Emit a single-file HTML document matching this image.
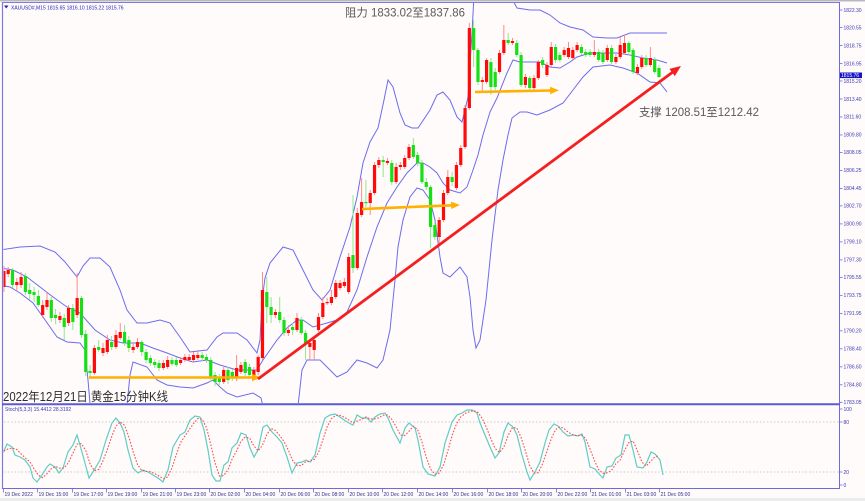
<!DOCTYPE html>
<html><head><meta charset="utf-8"><style>
html,body{margin:0;padding:0;background:#fffbfa;overflow:hidden}
svg{display:block}
</style></head><body>
<svg id="s" width="865" height="501" viewBox="0 0 865 501" xmlns="http://www.w3.org/2000/svg">
<defs>
<clipPath id="cm"><rect x="3.5" y="3" width="835.5" height="400"/></clipPath>
<clipPath id="cs"><rect x="3.5" y="406" width="835.5" height="82"/></clipPath>
</defs>
<rect width="865" height="501" fill="#fffbfa"/>
<rect x="0" y="0" width="865" height="1.5" fill="#b8b8c0"/>
<rect x="0" y="498" width="865" height="3" fill="#ececec"/>
<!-- frame -->
<line x1="3" y1="2.5" x2="839.5" y2="2.5" stroke="#7a7ae0" stroke-width="1"/>
<line x1="2.5" y1="2" x2="2.5" y2="489" stroke="#7a7ae0" stroke-width="1.2"/>
<line x1="839.5" y1="2" x2="839.5" y2="489" stroke="#6b6bdc" stroke-width="1"/>
<line x1="2" y1="404.2" x2="840" y2="404.2" stroke="#5a5ad6" stroke-width="2"/>
<line x1="2" y1="488.5" x2="840" y2="488.5" stroke="#6b6bdc" stroke-width="1"/>
<!-- stoch levels -->
<line x1="4" y1="422" x2="839" y2="422" stroke="#bdbdbd" stroke-width="0.8" stroke-dasharray="1.5,2"/>
<line x1="4" y1="472" x2="839" y2="472" stroke="#bdbdbd" stroke-width="0.8" stroke-dasharray="1.5,2"/>
<g id="main" clip-path="url(#cm)">
<g fill="none" stroke="#6c6cee" stroke-width="1">
<polyline points="0,250 20,247 40,246 55,252 65,262 77,277 83,266 90,258 100,258 110,267 120,290 127,310 137,323 147,323 160,320 170,323 180,337 190,352 207,350 217,337 223,333 237,333 247,340 257,353 260,340 262,300 265,278 270,263 283,247 293,250 303,270 313,290 322,300 330,290 340,257 350,227 357,197 363,163 370,142 378,128 384,100 388,80 393,87 400,113 405,125 412,128 418,128 430,110 437,95 443,92 450,100 457,117 462,122 465,110 468,97 472,33 474,-5"/>
<polyline points="510,-5 517,8 530,10 540,10 550,15 560,23 570,27 583,30 593,37 607,38 617,38 630,33 650,33 667,33"/>
<polyline points="0,268 13,270 27,277 40,287 53,297 67,307 80,313 95,330 110,340 123,343 140,343 153,348 167,353 180,358 193,362 207,360 220,365 237,370 250,370 257,370 263,360 270,350 277,340 287,328 297,320 303,320 313,327 327,323 337,320 347,312 357,290 367,257 377,227 387,203 397,187 407,173 417,163 423,163 430,167 437,173 443,183 450,190 460,193 467,187 473,170 478,155 483,135 490,112 497,98 507,73 513,60 520,62 540,62 550,67 560,68 570,62 577,57 590,53 607,53 617,53 630,55 643,58 657,60 667,63"/>
<polyline points="0,285 10,287 20,293 33,303 43,317 50,327 57,337 67,342 80,343 85,350 88,380 91,415"/>
<polyline points="126,415 130,375 133,362 147,367 157,380 167,385 180,387 193,388 207,383 213,380 220,387 227,393 237,397 253,393 261,398 265,415"/>
<polyline points="297,415 302,370 307,360 320,360 330,370 337,377 347,372 357,360 367,363 377,368 383,360 390,330 395,280 398,247 403,220 410,197 417,188 423,190 430,200 435,220 440,257 443,273 450,277 460,267 467,277 470,297 473,330 476,348 480,340 486,300 492,240 498,190 503,160 508,135 512,118 520,112 527,112 537,115 550,110 563,103 573,90 583,77 593,67 610,65 623,68 637,73 650,82 660,83 667,92"/>
</g>
<g id="candles"></g>
<!-- orange arrows -->
<g stroke="#ffb000" stroke-width="2.6" fill="#ffb000">
<line x1="89" y1="377.5" x2="253" y2="377.5"/>
<polygon stroke="none" points="261,377.5 252,373.8 252,381.2"/>
<line x1="362" y1="209" x2="452" y2="205.3"/>
<polygon stroke="none" points="460,205 451,201.6 451.3,209"/>
<line x1="475" y1="92" x2="551" y2="90.5"/>
<polygon stroke="none" points="559,90.3 550,86.8 550.2,94.2"/>
</g>
<!-- red trend line -->
<line x1="258" y1="379" x2="672.5" y2="72.2" stroke="#f42020" stroke-width="2.8"/>
<polygon points="681,66 674.8,76.1 669.4,68.9" fill="#f42020"/>
</g>
<g id="stoch" clip-path="url(#cs)">
<polyline id="smain" fill="none" stroke="#5fcdc4" stroke-width="1.2" points="3,453 7,444 12,447 15,455 20,457 25,460 30,467 33,478 37,482 42,475 47,467 50,464 55,467 59,473 63,468 68,452 73,445 77,435 80,445 85,463 89,478 93,472 100,460 106,440 112,423 116,418 120,423 124,432 128,450 133,468 138,473 143,470 148,472 153,475 158,478 163,482 168,470 173,447 180,435 185,432 190,420 195,416 200,417 204,430 208,450 212,475 216,481 220,481 224,465 228,462 232,448 237,443 241,433 246,435 250,448 254,457 258,450 263,427 267,425 272,432 277,437 282,443 287,457 292,473 297,463 302,462 306,460 310,462 315,455 320,433 325,418 330,415 335,414 340,417 347,422 353,425 357,415 362,418 367,418 371,422 375,417 380,414 385,413 388,418 393,430 400,443 405,428 409,423 415,428 418,440 423,467 428,474 435,476 440,467 445,443 452,422 457,415 462,413 467,410 472,410 477,413 480,423 485,435 490,447 495,458 499,453 504,432 508,423 513,427 517,435 522,455 527,472 530,480 535,472 540,462 545,443 549,430 554,424 558,426 563,432 568,436 573,435 578,436 582,434 585,442 590,467 595,469 600,475 603,478 607,467 612,466 616,458 621,455 625,435 629,435 633,450 637,467 643,468 647,462 651,452 655,454 660,460 663,475"/>
</g>
<!-- big annotation texts -->
<text x="345" y="16.5" font-size="11.5" fill="#5a5a5a" textLength="120" lengthAdjust="spacingAndGlyphs" font-family="Liberation Sans, 'Noto Sans CJK SC', sans-serif">阻力 1833.02至1837.86</text>
<text x="639" y="116" font-size="11.5" fill="#5a5a5a" textLength="120" lengthAdjust="spacingAndGlyphs" font-family="Liberation Sans, 'Noto Sans CJK SC', sans-serif">支撑 1208.51至1212.42</text>
<text x="3" y="401" font-size="12.5" fill="#2e2e2e" textLength="165" lengthAdjust="spacingAndGlyphs" font-family="Liberation Sans, 'Noto Sans CJK SC', sans-serif">2022年12月21日 黄金15分钟K线</text>
<!-- header -->
<polygon points="4,5.5 8.5,5.5 6.25,8.5" fill="#2020c0"/>
<rect x="840" y="72.5" width="22" height="5.6" fill="#1414c4"/>
<g id="labels"></g>
</svg>
<script>
(function(){
var NS="http://www.w3.org/2000/svg";
function el(tag,a,p){var e=document.createElementNS(NS,tag);for(var k in a)e.setAttribute(k,a[k]);p.appendChild(e);return e;}
var D=[
[287,271,266,292],[274,270,267,277],[270,285,268,288],[285,282,278,291],[285,277,272,288],
[276,292,273,295],[290,294,283,300],[292,295,287,302],[296,305,290,307],[315,305,300,318],
[307,300,293,310],[300,318,297,322],[315,318,309,324],[320,316,312,323],[318,327,314,340],
[323,308,305,326],[308,322,304,330],[315,298,273,318],[298,335,296,338],[334,372,330,376],
[371,373,365,378],[373,348,345,375],[347,350,340,352],[353,348,343,356],[352,340,335,354],
[342,347,336,350],[347,335,330,349],[338,332,323,340],[332,343,325,346],[340,348,336,352],
[350,347,343,353],[347,342,338,349],[342,352,340,356],[352,360,349,363],[358,363,355,366],
[362,365,359,368],[363,368,360,371],[368,363,360,370],[367,360,356,369],[360,364,357,366],
[360,365,357,367],[363,360,357,365],[360,357,354,362],[360,357,354,362],[360,355,352,362],
[358,355,350,360],[355,358,352,361],[357,360,354,363],[360,378,357,382],[375,382,372,386],
[377,382,374,385],[382,370,367,384],[370,380,367,384],[372,378,369,381],[378,368,355,381],
[372,365,362,374],[362,373,359,377],[367,375,364,378],[375,370,367,378],[372,357,355,375],
[358,290,272,360],[292,307,277,323],[307,315,297,323],[315,312,309,318],[312,320,297,323],
[320,333,317,336],[333,330,325,336],[327,330,323,335],[330,318,313,332],[320,333,317,335],
[333,343,330,360],[347,343,340,360],[350,340,337,360],[330,317,313,332],[317,303,297,319],
[303,302,298,305],[303,297,290,305],[297,283,280,299],[288,283,280,290],[286,282,278,288],
[292,257,253,294],[255,268,195,273],[268,213,208,270],[215,202,178,217],[202,203,180,207],
[203,193,190,215],[193,165,162,195],[165,160,157,168],[160,162,156,177],[163,161,158,165],
[163,182,160,185],[182,167,163,184],[167,165,162,170],[167,158,155,169],[158,147,144,160],
[145,157,138,159],[155,163,152,166],[163,182,160,184],[182,187,178,190],[187,227,185,248],
[225,237,222,240],[237,220,217,245],[220,193,190,222],[193,177,170,195],[177,182,172,186],
[188,165,162,190],[165,148,145,167],[147,108,105,149],[108,28,23,110],[28,50,20,67],
[50,82,48,85],[82,80,77,92],[82,60,58,84],[62,87,58,95],[72,87,68,90],
[72,53,50,74],[53,40,25,55],[40,43,33,45],[43,41,38,45],[43,55,40,57],
[55,85,52,87],[85,77,74,88],[78,88,76,91],[88,78,75,90],[78,62,60,80],
[60,65,57,68],[75,65,62,77],[65,47,42,67],[47,60,44,63],[55,60,52,62],
[55,50,47,57],[57,48,42,59],[58,50,47,60],[50,45,42,52],[47,53,44,55],
[52,55,49,57],[52,55,49,57],[55,52,40,57],[52,60,49,62],[53,62,50,64],
[60,48,45,62],[48,62,45,64],[62,57,54,64],[57,45,37,59],[53,43,35,55],
[43,52,41,55],[50,72,48,74],[73,67,64,75],[67,58,55,69],[58,65,55,67],
[65,58,47,67],[60,72,57,74],[68,77,65,78]];
var N=D.length, g=document.getElementById('candles');
var xs=[];
for(var i=0;i<N;i++){
  var d=D[i],o=d[0],c=d[1],top=Math.min(o,c),bot=Math.max(o,c);
  var h=Math.min(d[2],top),l=Math.max(d[3],bot);
  var x=659-(N-1-i)*4.31; xs.push(x);
  var red=c<o;
  el('line',{x1:x,y1:h,x2:x,y2:l,stroke:red?'#ff8a8a':'#8ee88e','stroke-width':1},g);
  el('rect',{x:x-1.6,y:top,width:3.2,height:Math.max(1.2,bot-top),fill:red?'#ff0a0a':'#14e014'},g);
}
// stoch signal
var pts=document.getElementById('smain').getAttribute('points').trim().split(/\s+/).map(function(p){var a=p.split(',');return [+a[0],+a[1]];});
function interp(x){
  if(x<=pts[0][0])return pts[0][1];
  for(var k=1;k<pts.length;k++){if(x<=pts[k][0]){var a=pts[k-1],b=pts[k];return a[1]+(b[1]-a[1])*(x-a[0])/(b[0]-a[0]);}}
  return pts[pts.length-1][1];
}
var v=xs.map(interp), sp=[];
for(var i=0;i<N;i++){var a=v[Math.max(0,i-2)],b=v[Math.max(0,i-1)],c=v[i];sp.push(xs[i].toFixed(1)+','+((a+b+c)/3).toFixed(1));}
el('polyline',{points:sp.join(' '),fill:'none',stroke:'#ff4a4a','stroke-width':1.1,'stroke-dasharray':'1.6,1.6'},document.getElementById('stoch'));
// small labels
var L=document.getElementById('labels');
function t(x,y,s,size,fill){var e=el('text',{transform:'translate('+x+','+y+') scale('+(size/10)+')','font-size':10,'font-family':'Liberation Sans, sans-serif',fill:fill},L);e.textContent=s;return e;}
var AX='#3a3ab4';
t(11,9.3,'XAUUSD#,M15  1815.65 1816.10 1815.22 1815.76',5,'#2222c4');
t(5,411,'Stoch(5,3,3) 15.4412 28.3192',5,AX);
var prices=['1822.30','1820.55','1818.75','1816.95','1815.20','1813.40','1811.60','1809.80','1808.05','1806.25','1804.45','1802.70','1800.90','1799.10','1797.30','1795.55','1793.75','1791.95','1790.20','1788.40','1786.60','1784.80','1783.05'];
prices.forEach(function(p){var y=10+(1822.30-parseFloat(p))*9.995;
  el('line',{x1:839.5,y1:y,x2:842.5,y2:y,stroke:'#6b6bdc','stroke-width':0.8},L);
  t(843.5,y+1.8,p,5,AX);});
t(841,77.1,'1815.76',5,'#ffffff');
[['100',409],['80',422],['20',472],['0',485]].forEach(function(a){
  el('line',{x1:839.5,y1:a[1],x2:842.5,y2:a[1],stroke:'#6b6bdc','stroke-width':0.8},L);
  t(843.5,a[1]+1.8,a[0],5,AX);});
var dl=[['19 Dec 2022',3],['19 Dec 15:00',37],['19 Dec 17:00',72],['19 Dec 19:00',106],['19 Dec 21:00',141],['19 Dec 23:00',175],['20 Dec 02:00',209],['20 Dec 04:00',244],['20 Dec 06:00',279],['20 Dec 08:00',313],['20 Dec 10:00',348],['20 Dec 12:00',382],['20 Dec 14:00',417],['20 Dec 16:00',452],['20 Dec 18:00',487],['20 Dec 20:00',521],['20 Dec 22:00',556],['21 Dec 01:00',590],['21 Dec 03:00',625],['21 Dec 05:00',659]];
dl.forEach(function(a){
  el('line',{x1:a[1]+0.5,y1:488.5,x2:a[1]+0.5,y2:492.5,stroke:'#6b6bdc','stroke-width':0.8},L);
  t(a[1]+1.5,496,a[0],5,'#303090');});
})();
</script>
</body></html>
